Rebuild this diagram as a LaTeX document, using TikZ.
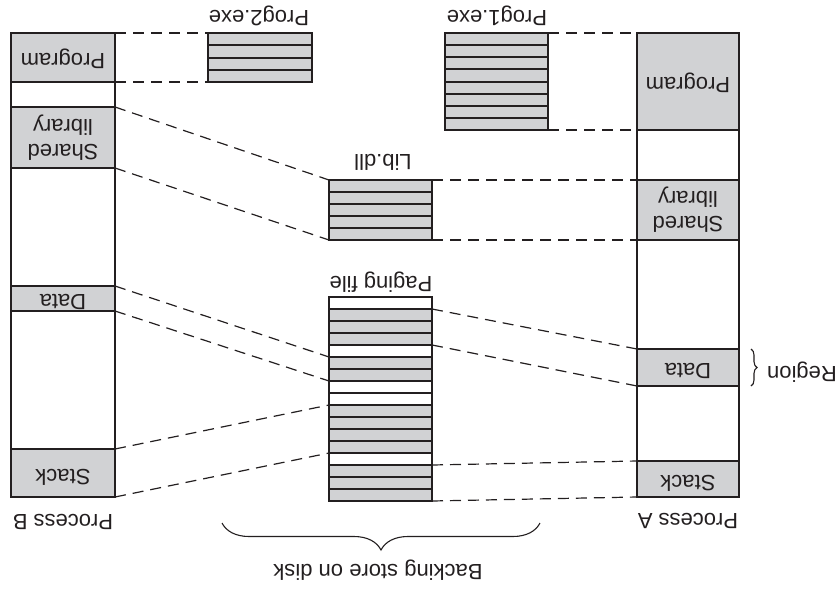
\documentclass[tikz,border=0pt]{standalone}
\usepackage{fontspec}
\setmainfont{Liberation Sans}
\usetikzlibrary{decorations.pathreplacing}
\definecolor{ink}{HTML}{231F20}
\definecolor{seg}{HTML}{D1D2D4}

\begin{document}
\begin{tikzpicture}[x=1pt,y=-1pt,
  box/.style={draw=ink, line width=2pt, rectangle, inner sep=0pt, outer sep=0pt},
  filled/.style={box, fill=seg},
  lbl/.style={rotate=180, font=\fontsize{22}{25}\selectfont, text=ink, inner sep=0pt,
              text height=0.716em, text depth=0pt},
  mlbl/.style={rotate=180, font=\fontsize{22}{25}\selectfont, text=ink, inner sep=0pt, align=center},
  link/.style={draw=ink, line width=1.2pt, dash pattern=on 11pt off 7pt},
  bracket/.style={draw=ink, line width=1.1pt, decorate, decoration={brace, amplitude=#1}},
]
\useasboundingbox (0,0) rectangle (839,590);

% ---- Process B address space ----
\node[box, minimum width=104pt, minimum height=464pt] (bcol) at (63,265) {};
\node[filled, minimum width=104pt, minimum height=49pt] (bprog) at (63,57.5) {};
\node[filled, minimum width=104pt, minimum height=61pt] (bshared) at (63,137.5) {};
\node[filled, minimum width=104pt, minimum height=25pt] (bdata) at (63,298.5) {};
\node[filled, minimum width=104pt, minimum height=48pt] (bstack) at (63,473) {};
\node[lbl] at (bprog) {Program};
\node[mlbl] at (bshared) {Shared\\library};
\node[lbl] at (bdata) {Data};
\node[lbl] at (bstack) {Stack};
\node[lbl] (blbl) at (63,518) {Process B};

% ---- Process A address space ----
\node[box, minimum width=102pt, minimum height=464pt] (acol) at (688,265) {};
\node[filled, minimum width=102pt, minimum height=97pt] (aprog) at (688,81.5) {};
\node[filled, minimum width=102pt, minimum height=60pt] (ashared) at (688,210) {};
\node[filled, minimum width=102pt, minimum height=37pt] (adata) at (688,367.5) {};
\node[filled, minimum width=102pt, minimum height=36pt] (astack) at (688,479) {};
\node[lbl] at (aprog) {Program};
\node[mlbl] at (ashared) {Shared\\library};
\node[lbl] at (adata) {Data};
\node[lbl] at (astack) {Stack};
\node[lbl] (albl) at (688,517) {Process A};

% ---- Files on disk ----
\foreach \i in {1,...,4}
  \node[filled, minimum width=104pt, minimum height=12.25pt] (p2r\i) at (260,{33+12.25*(\i-0.5)}) {};
\node[lbl] (p2lbl) at (259,14.5) {Prog2.exe};

\foreach \i in {1,...,8}
  \node[filled, minimum width=103pt, minimum height=12.125pt] (p1r\i) at (496.5,{33+12.125*(\i-0.5)}) {};
\node[lbl] (p1lbl) at (497,14.5) {Prog1.exe};

\foreach \i in {1,...,5}
  \node[filled, minimum width=103pt, minimum height=12pt] (lib\i) at (380.5,{180+12*(\i-0.5)}) {};
\node[lbl] (liblbl) at (383,158) {Lib.dll};

\foreach \i/\f in {1/white,2/seg,3/seg,4/seg,5/white,6/seg,7/seg,8/white,9/white,
                   10/seg,11/seg,12/seg,13/seg,14/white,15/seg,16/seg,17/seg}
  \node[box, fill=\f, minimum width=103pt, minimum height=12pt] (pf\i) at (380.5,{297+12*(\i-0.5)}) {};
\node[lbl] (pflbl) at (381,280) {Paging file};

% ---- Mappings ----
\draw[link] (bprog.north east) -- (p2r1.north west);
\draw[link] (bprog.south east) -- (p2r4.south west);
\draw[link] (bshared.north east) -- (lib1.north west);
\draw[link] (bshared.south east) -- (lib5.south west);
\draw[link] (bdata.north east) -- (pf6.north west);
\draw[link] (bdata.south east) -- (pf7.south west);
\draw[link] (bstack.north east) -- (pf10.north west);
\draw[link] (bstack.south east) -- (pf13.south west);

\draw[link] (p1r1.north east) -- (aprog.north west);
\draw[link] (p1r8.south east) -- (aprog.south west);
\draw[link] (lib1.north east) -- (ashared.north west);
\draw[link] (lib5.south east) -- (ashared.south west);
\draw[link] (pf2.north east) -- (adata.north west);
\draw[link] (pf4.south east) -- (adata.south west);
\draw[link] (pf15.north east) -- (astack.north west);
\draw[link] (pf17.south east) -- (astack.south west);

% ---- Braces ----
\draw[bracket=6pt] (751,349) -- (751,386);
\node[lbl] (reglbl) at (802,370) {Region};
\draw[bracket=27pt] (540,523) -- (222,523);
\node[lbl] (disklbl) at (378,568) {Backing store on disk};
\end{tikzpicture}
\end{document}
